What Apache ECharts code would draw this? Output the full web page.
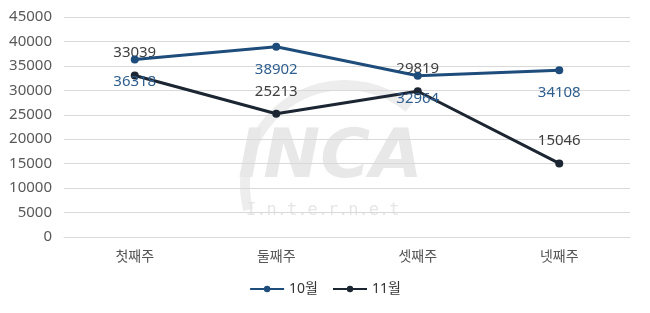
<!DOCTYPE html>
<html>
<head>
<meta charset="utf-8">
<script src="https://cdn.jsdelivr.net/npm/echarts@6/dist/echarts.min.js"></script>
<style>
    html, body { margin: 0; padding: 0; background: #fff; }
    #chart { width: 650px; height: 313px; }
</style>
</head>
<body>
<div id="chart"></div>
<script>
var weeks = ['첫째주', '둘째주', '셋째주', '넷째주'];
var octData = [36318, 38902, 32964, 34108];
var novData = [33039, 25213, 29819, 15046];

var myChart = echarts.init(document.getElementById('chart'));
var font = '"Noto Sans", "Noto Sans CJK KR", sans-serif';

var option = {
    animation: false,
    textStyle: { fontFamily: font },
    color: ['#1e4d7b', '#1c2532'],
    graphic: [
        {
            type: 'arc',
            z: 0,
            shape: { cx: 345, cy: 185, r: 100, startAngle: Math.PI * 0.92, endAngle: Math.PI * 1.72 },
            style: { stroke: '#ededed', lineWidth: 10, fill: null }
        },
        {
            type: 'text',
            z: 0,
            left: 238,
            top: 125,
            style: {
                text: 'INCA',
                font: 'italic bold 68px "DejaVu Sans", sans-serif',
                fill: '#e8e8e8'
            }
        },
        {
            type: 'text',
            z: 0,
            left: 246,
            top: 202,
            style: {
                text: 'I.n.t.e.r.n.e.t',
                font: '17px "DejaVu Sans Mono", monospace',
                fill: '#e6e6e6'
            }
        }
    ],
    grid: { left: 64, right: 20, top: 17, bottom: 76 },
    legend: {
        bottom: 12,
        left: 'center',
        itemWidth: 34,
        itemHeight: 8,
        itemGap: 14,
        textStyle: { fontSize: 14, color: '#333', fontFamily: font },
        data: ['10월', '11월']
    },
    xAxis: {
        type: 'category',
        data: weeks,
        axisLine: { lineStyle: { color: '#d9d9d9' } },
        axisTick: { show: false },
        axisLabel: { fontSize: 14, color: '#555', margin: 13 }
    },
    yAxis: {
        type: 'value',
        min: 0,
        max: 45000,
        interval: 5000,
        axisLine: { show: false },
        axisTick: { show: false },
        splitLine: { lineStyle: { color: '#d9d9d9' } },
        axisLabel: {
            fontSize: 15,
            color: '#595959',
            margin: 12,
            formatter: function (v) { return String(v); }
        }
    },
    series: [
        {
            name: '10월',
            type: 'line',
            data: octData,
            symbol: 'circle',
            symbolSize: 8,
            lineStyle: { width: 3 },
            label: {
                show: true,
                position: 'bottom',
                distance: 11,
                fontSize: 15,
                color: '#2f5f8f'
            },
            z: 3
        },
        {
            name: '11월',
            type: 'line',
            data: novData,
            symbol: 'circle',
            symbolSize: 8,
            lineStyle: { width: 3 },
            label: {
                show: true,
                position: 'top',
                distance: 11,
                fontSize: 15,
                color: '#404040'
            },
            z: 2
        }
    ]
};
myChart.setOption(option);
</script>
</body>
</html>
